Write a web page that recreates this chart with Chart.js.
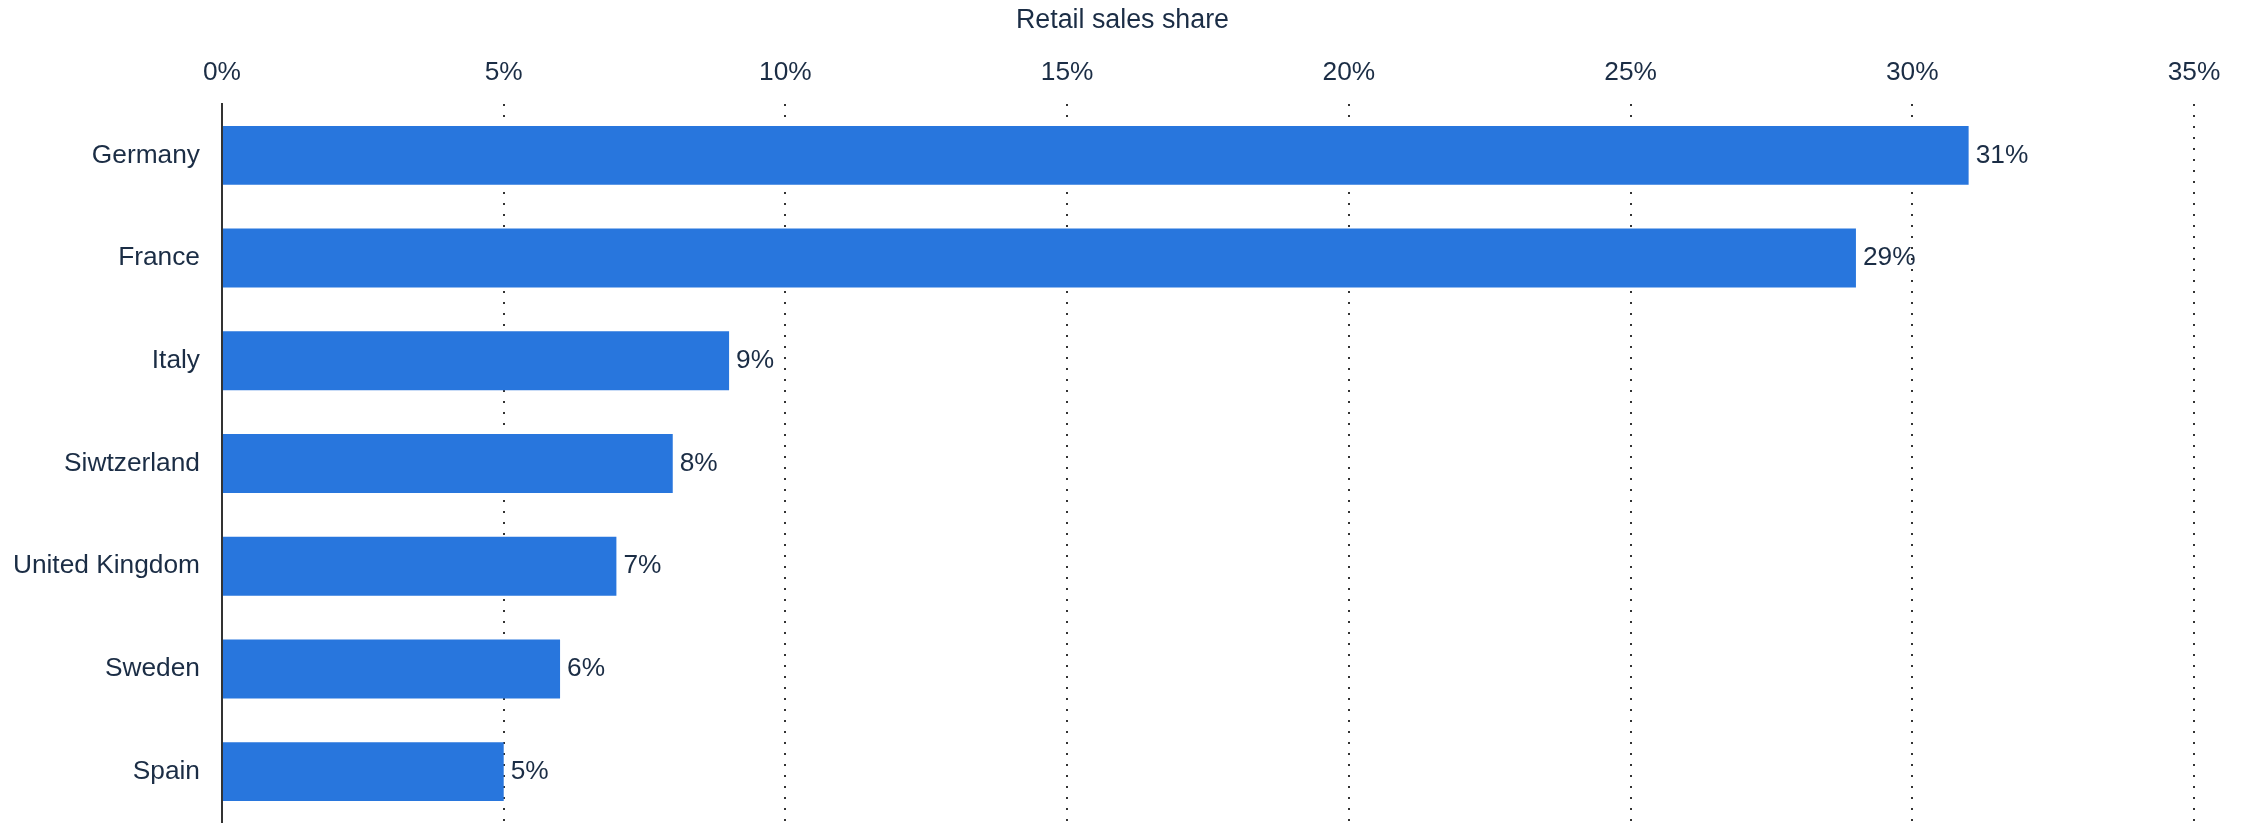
<!DOCTYPE html>
<html>
<head>
<meta charset="utf-8">
<script src="https://cdn.jsdelivr.net/npm/chart.js@4/dist/chart.umd.min.js"></script>
<style>
  html, body { margin: 0; padding: 0; background: #ffffff; }
  canvas { display: block; }
</style>
</head>
<body>
<canvas id="c" width="2245" height="823"></canvas>
<script>
// ---- Data ----
const categories = ["Germany", "France", "Italy", "Siwtzerland", "United Kingdom", "Sweden", "Spain"];
const shareValues = [31, 29, 9, 8, 7, 6, 5];
const axisTitle = "Retail sales share";
const xTickMin = 0;
const xTickMax = 35;
const xTickStep = 5;

const TEXT = '#1b2d45';
const BAR = '#2876dd';
const FONT = "'Liberation Sans', Arial, sans-serif";
const LABEL_SIZE = 26.3;
const TITLE_SIZE = 26.8;
const TITLE_PAD_TOP = 5;
const TITLE_BOX = TITLE_PAD_TOP + TITLE_SIZE * 1.2;

const valueLabels = {
  id: 'valueLabels',
  afterDatasetsDraw(chart) {
    const ctx = chart.ctx;
    const meta = chart.getDatasetMeta(0);
    ctx.save();
    ctx.font = LABEL_SIZE + 'px ' + FONT;
    ctx.fillStyle = TEXT;
    ctx.textAlign = 'left';
    ctx.textBaseline = 'middle';
    meta.data.forEach((el, i) => {
      const v = chart.data.datasets[0].data[i];
      ctx.fillText(v + '%', el.x + 7, el.y);
    });
    ctx.restore();
  }
};

new Chart(document.getElementById('c'), {
  type: 'bar',
  data: {
    labels: categories,
    datasets: [{
      data: shareValues,
      backgroundColor: BAR,
      borderWidth: 0,
      barPercentage: 0.574,
      categoryPercentage: 1.0
    }]
  },
  plugins: [valueLabels],
  options: {
    indexAxis: 'y',
    responsive: false,
    animation: false,
    layout: { padding: 0 },
    plugins: {
      legend: { display: false },
      tooltip: { enabled: false },
      title: {
        display: true,
        text: axisTitle,
        color: TEXT,
        font: { family: FONT, size: TITLE_SIZE, weight: 'normal' },
        padding: { top: TITLE_PAD_TOP, bottom: 0 },
        fullSize: true,
        align: 'center'
      }
    },
    scales: {
      x: {
        position: 'top',
        min: xTickMin,
        max: xTickMax,
        ticks: {
          stepSize: xTickStep,
          color: TEXT,
          font: { family: FONT, size: LABEL_SIZE },
          padding: 15,
          maxRotation: 0,
          callback: (v) => v + '%'
        },
        grid: {
          display: true,
          drawOnChartArea: true,
          drawTicks: false,
          color: '#333333',
          lineWidth: 2
        },
        border: { display: false, dash: [2, 9] },
        afterFit(scale) {
          scale.height = 104 - TITLE_BOX;
          scale.paddingLeft = 0;
          scale.paddingRight = 51;
        }
      },
      y: {
        ticks: {
          color: TEXT,
          font: { family: FONT, size: LABEL_SIZE },
          padding: 22
        },
        grid: { display: false, drawTicks: false },
        border: { display: true, color: '#333333', width: 2 },
        afterFit(scale) {
          scale.width = 222;
          scale.paddingTop = 0;
          scale.paddingBottom = 0;
        }
      }
    }
  }
});
</script>
</body>
</html>
